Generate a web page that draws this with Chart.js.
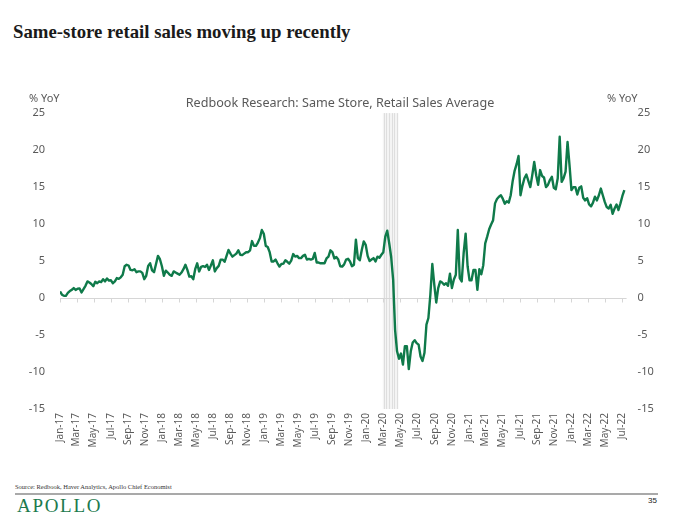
<!DOCTYPE html>
<html>
<head>
<meta charset="utf-8">
<script src="https://cdn.jsdelivr.net/npm/chart.js@4.4.0/dist/chart.umd.min.js"></script>
<style>
  body { margin: 0; background: #fff; width: 680px; height: 524px; position: relative; overflow: hidden; }
  #title { position: absolute; left: 13px; top: 21px; font-family: "Liberation Serif", serif; font-size: 18.8px; font-weight: bold; color: #1a1a1a; }
  #wrap { position: absolute; left: 0; top: 85px; width: 680px; height: 390px; }
  #source { position: absolute; left: 15px; top: 483px; font-family: "Liberation Serif", serif; font-size: 6.5px; color: #333; }
  #rule { position: absolute; left: 15px; top: 493px; width: 643px; height: 2px; background: #a9a9a9; }
  #logo { position: absolute; left: 17px; top: 495px; font-family: "Liberation Serif", serif; font-size: 19px; letter-spacing: 1.7px; color: #1d7a4e; }
  #page { position: absolute; left: 648px; top: 496px; font-family: "Liberation Sans", sans-serif; font-size: 8px; color: #222; }
</style>
</head>
<body>
<div id="title">Same-store retail sales moving up recently</div>
<div id="wrap"><canvas id="chart"></canvas></div>
<div id="source">Source: Redbook, Haver Analytics, Apollo Chief Economist</div>
<div id="rule"></div>
<div id="logo">APOLLO</div>
<div id="page">35</div>
<script>
// Weekly readings, % YoY, first week ending 2017-01-01
const firstWeek = '2017-01-01';
const salesYoY = [
  0.9, 0.45, 0.3, 0.3, 0.7, 0.95, 1.1, 1.35, 1.1, 1.25,
  1.3, 0.75, 1.2, 1.65, 2.25, 2.1, 1.9, 1.6, 2.2, 2.0,
  2.25, 2.15, 2.55, 2.25, 2.65, 2.35, 2.4, 2.0, 2.25, 2.7,
  2.6, 2.8, 3.15, 4.3, 4.5, 4.4, 3.8, 3.75, 3.9, 3.5,
  3.6, 3.6, 3.4, 2.55, 3.0, 4.35, 4.7, 3.75, 3.5, 4.6,
  5.7, 5.25, 4.3, 3.0, 3.7, 3.45, 3.15, 3.0, 3.6, 3.45,
  3.3, 3.15, 3.45, 3.9, 4.5, 3.8, 2.9, 2.95, 2.55, 3.9,
  4.7, 3.6, 4.2, 4.3,
  4.2, 4.5, 3.8, 4.4, 5.1, 3.6, 4.05, 4.35, 5.2, 5.2,
  4.9, 5.7, 6.5, 6.0, 5.6, 5.8, 6.0, 6.45, 5.85, 5.8,
  6.0, 6.2, 6.2, 6.45, 7.7, 7.05, 7.05, 7.5, 8.1, 9.2,
  8.7, 7.05, 6.9, 6.2, 4.95, 4.95, 5.2, 4.7, 4.25, 4.6,
  4.65, 5.1, 4.9, 4.65, 5.05, 5.95, 5.6, 5.7, 5.4, 5.4,
  5.7, 5.85, 5.2, 5.3, 5.2, 5.3, 6.1, 4.8, 4.8, 4.7,
  4.7, 4.7, 5.35, 5.6, 6.45, 6.2, 5.35, 5.55, 5.2, 4.3,
  4.25, 4.55, 5.2, 5.3,
  4.95, 4.3, 4.5, 7.9, 5.4, 5.1, 6.5, 7.65, 7.2, 5.7,
  5.0, 5.2, 5.4, 4.95, 5.6, 5.45, 5.85, 6.2, 8.3, 9.1,
  7.4, 5.55, 2.5, -4.3, -7.2, -8.2, -7.5, -9.0, -6.5, -6.5,
  -9.6, -7.2, -6.0, -5.7, -6.1, -6.3, -7.9, -8.5, -7.4, -3.6,
  -2.7, 0.45, 4.6, 1.8, -0.6, 1.35, 2.25, 2.1, 1.8, 2.0,
  1.65, 3.3, 1.35, 2.5, 3.15, 9.2, 2.7, 2.25, 6.1, 8.7,
  4.3, 2.4, 2.4, 3.8, 3.8,
  1.1, 3.9, 3.2, 4.45, 7.4, 8.3, 9.3, 9.95, 10.5, 12.8,
  13.4, 13.7, 13.9, 13.4, 12.75, 13.1, 12.9, 13.9, 15.8, 17.2,
  18.1, 19.2, 13.9, 15.2, 16.2, 16.7, 15.85, 15.0, 16.6, 18.4,
  16.6, 15.3, 17.3, 16.5, 16.3, 15.0, 15.3, 15.95, 16.4, 14.9,
  14.7, 16.2, 21.8, 15.7, 16.2, 17.1, 21.1, 18.0, 14.6, 15.0,
  15.0, 14.0, 14.9, 15.1, 13.55, 13.2, 13.5, 12.65, 12.4, 12.9,
  13.7, 13.2, 13.9, 14.8, 13.9, 13.0, 12.3, 12.1, 12.6, 11.4,
  12.1, 12.65, 11.9, 12.8, 13.8, 14.6
];

const xLabels = [
  'Jan-17', 'Mar-17', 'May-17', 'Jul-17', 'Sep-17', 'Nov-17',
  'Jan-18', 'Mar-18', 'May-18', 'Jul-18', 'Sep-18', 'Nov-18',
  'Jan-19', 'Mar-19', 'May-19', 'Jul-19', 'Sep-19', 'Nov-19',
  'Jan-20', 'Mar-20', 'May-20', 'Jul-20', 'Sep-20', 'Nov-20',
  'Jan-21', 'Mar-21', 'May-21', 'Jul-21', 'Sep-21', 'Nov-21',
  'Jan-22', 'Mar-22', 'May-22', 'Jul-22'
];
const tickDates = xLabels.map(l => {
  const [mon, yy] = l.split('-');
  const m = ['Jan','Feb','Mar','Apr','May','Jun','Jul','Aug','Sep','Oct','Nov','Dec'].indexOf(mon);
  return Date.UTC(2000 + Number(yy), m, 1);
});
const recession = ['2020-02-28', '2020-04-24'];

const DAY = 86400000;
const t0 = Date.parse(firstWeek);
const toDay = d => ((typeof d === 'string' ? Date.parse(d) : d) - t0) / DAY;

const points = salesYoY.map((v, i) => ({ x: i * 7, y: v }));
const tickDays = tickDates.map(toDay);

const LINE_GREEN = '#0f7a4a';
const TEXT_GREY = '#595959';
const FONT = '"Noto Sans", "Open Sans", sans-serif';

const decor = {
  id: 'decor',
  beforeDatasetsDraw(chart) {
    const { ctx, chartArea, scales } = chart;
    const x = scales.x, y = scales.y;
    // recession band
    const a = x.getPixelForValue(toDay(recession[0]));
    const b = x.getPixelForValue(toDay(recession[1]));
    ctx.save();
    ctx.fillStyle = '#f4f4f4';
    ctx.fillRect(a, chartArea.top, b - a, chartArea.bottom - chartArea.top);
    ctx.strokeStyle = '#dedede';
    ctx.lineWidth = 1;
    for (let p = a + 1; p < b; p += 2.6) {
      ctx.beginPath();
      ctx.moveTo(Math.round(p) + 0.5, chartArea.top);
      ctx.lineTo(Math.round(p) + 0.5, chartArea.bottom);
      ctx.stroke();
    }
    // zero line with tick marks
    const y0 = Math.round(y.getPixelForValue(0)) + 0.5;
    ctx.strokeStyle = '#d6d6d6';
    ctx.beginPath();
    ctx.moveTo(chartArea.left, y0);
    ctx.lineTo(chartArea.right, y0);
    x.ticks.forEach(t => {
      const px = Math.round(x.getPixelForValue(t.value)) + 0.5;
      ctx.moveTo(px, y0);
      ctx.lineTo(px, y0 + 4);
    });
    ctx.stroke();
    ctx.restore();
  },
  afterDraw(chart) {
    const { ctx } = chart;
    ctx.save();
    ctx.fillStyle = TEXT_GREY;
    ctx.font = '11px ' + FONT;
    ctx.textBaseline = 'middle';
    ctx.textAlign = 'left';
    ctx.fillText('% YoY', 29, 14);
    ctx.fillText('% YoY', 607, 14);
    ctx.restore();
  }
};

const sideAxis = (position, padding, width) => ({
  position,
  min: -15,
  max: 25,
  grid: { display: false, drawTicks: false },
  border: { display: false },
  ticks: { stepSize: 5, padding, color: TEXT_GREY, font: { family: FONT, size: 11 } },
  afterFit: s => { s.width = width; }
});

new Chart(document.getElementById('chart'), {
  type: 'line',
  data: {
    datasets: [{
      data: points,
      borderColor: LINE_GREEN,
      borderWidth: 2.4,
      borderJoinStyle: 'round',
      pointRadius: 0,
      tension: 0,
      yAxisID: 'y'
    }]
  },
  options: {
    responsive: true,
    maintainAspectRatio: false,
    animation: false,
    layout: { padding: 0 },
    plugins: {
      legend: { display: false },
      tooltip: { enabled: false },
      title: {
        display: true,
        text: 'Redbook Research: Same Store, Retail Sales Average',
        color: TEXT_GREY,
        font: { family: FONT, size: 12.6, weight: 'normal' },
        padding: { top: 11, bottom: 2 }
      }
    },
    scales: {
      x: {
        type: 'linear',
        min: 0,
        max: 2024,
        grid: { display: false, drawTicks: false },
        border: { display: false },
        ticks: {
          autoSkip: false,
          maxRotation: 90,
          minRotation: 90,
          padding: 4,
          color: TEXT_GREY,
          font: { family: FONT, size: 10 },
          callback: (v, i) => xLabels[i]
        },
        afterBuildTicks: s => { s.ticks = tickDays.map(v => ({ value: v })); },
        afterFit: s => { s.height = 66; }
      },
      y: sideAxis('left', 15, 60),
      y2: sideAxis('right', 11, 53.4)
    }
  },
  plugins: [decor]
});
</script>
</body>
</html>
